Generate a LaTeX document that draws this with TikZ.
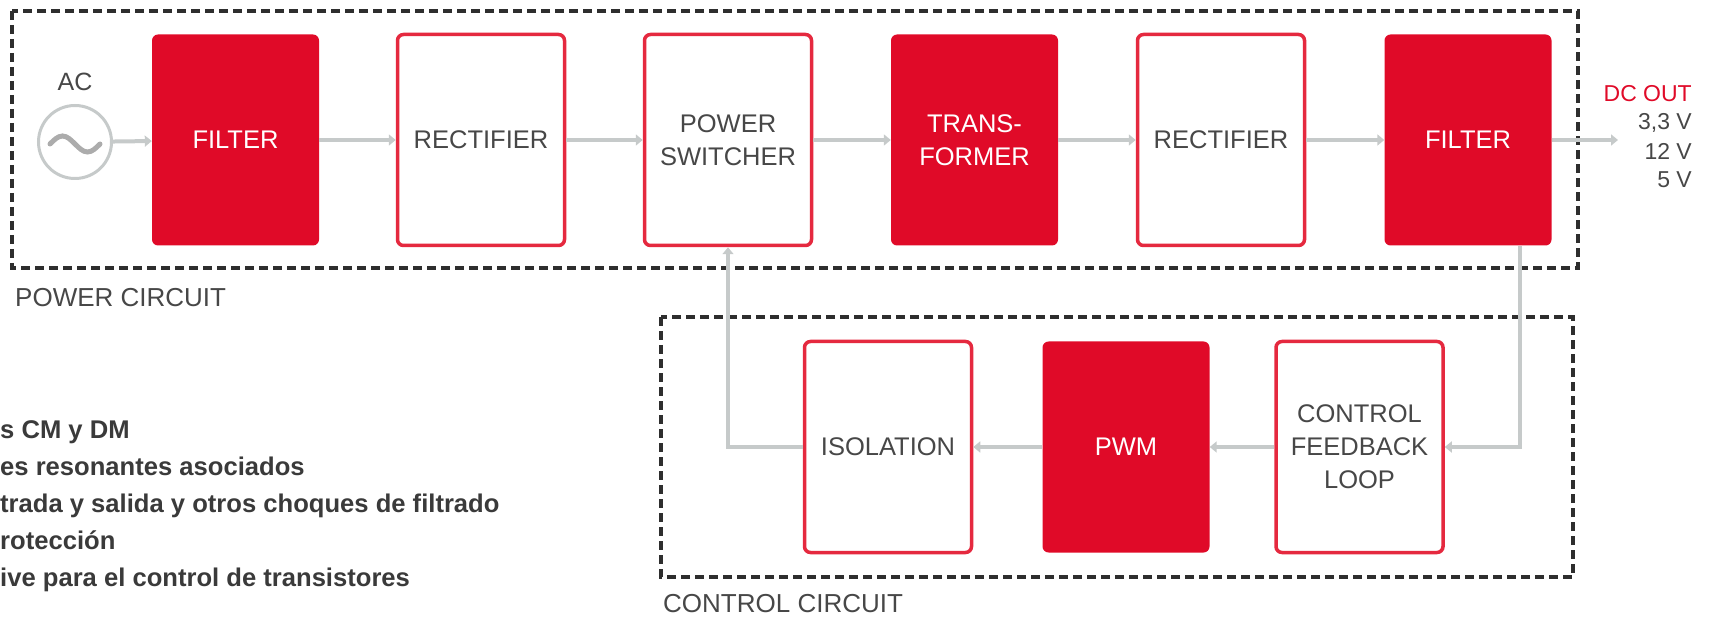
\documentclass[tikz,border=0pt]{standalone}
\usepackage{fontspec}
\setmainfont{Liberation Sans}
\usetikzlibrary{arrows.meta,calc}

\definecolor{psred}{HTML}{E00A28}
\definecolor{edgered}{HTML}{E5293F}
\definecolor{wire}{HTML}{C6CACA}
\definecolor{ink}{HTML}{474747}
\definecolor{frame}{HTML}{2E2E2E}
\definecolor{notes}{HTML}{3A3A3A}

\begin{document}
\begin{tikzpicture}[x=1pt,y=-1pt,
  blk/.style={rounded corners=6pt, minimum width=167pt, minimum height=211pt,
    align=center, inner sep=0pt, font=\fontsize{25.5}{33}\selectfont},
  solidblk/.style={blk, fill=psred, text=white},
  openblk/.style={blk, draw=edgered, line width=3.5pt, fill=white, text=ink},
  region/.style={draw=frame, line width=3.5pt, dash pattern=on 9pt off 5pt},
  flow/.style={draw=wire, line width=4pt, -{Triangle[length=7pt,width=11pt]}},
  caption/.style={anchor=base west, inner sep=0pt, text=ink,
    font=\fontsize{26}{30}\selectfont},
  outlabel/.style={anchor=base east, inner sep=0pt,
    font=\fontsize{23}{28}\selectfont},
  note/.style={anchor=base west, inner sep=0pt, text=notes,
    font=\bfseries\fontsize{25.6}{30}\selectfont}
]
\useasboundingbox (0,0) rectangle (1715,617);

% dashed enclosures
\draw[region] (12,11) rectangle (1578,268);
\draw[region] (661,317) rectangle (1573,577);
\node[caption] (pwrcap) at (15,307) {POWER CIRCUIT};
\node[caption] (ctlcap) at (663,612) {CONTROL CIRCUIT};

% AC source
\node[circle, draw=wire, line width=3pt, minimum size=73pt, inner sep=0pt] (ac) at (75,142) {};
\node[inner sep=0pt, text=ink, font=\fontsize{25}{30}\selectfont] (aclbl) at (75,82) {AC};
\draw[draw=gray!65, line width=5pt, line cap=round]
  ($(ac.center)+(-25,2)$) sin ++(12.5,-8) cos ++(12.5,8) sin ++(12.5,8) cos ++(12.5,-8);

% power stage
\node[solidblk] (flt1) at (235.5,140) {FILTER};
\node[openblk]  (rec1) at (481,140) {RECTIFIER};
\node[openblk]  (psw)  at (728,140) {POWER\\SWITCHER};
\node[solidblk] (trf)  at (974.5,140) {TRANS-\\FORMER};
\node[openblk]  (rec2) at (1221,140) {RECTIFIER};
\node[solidblk] (flt2) at (1468,140) {FILTER};

% control stage
\node[openblk]  (iso) at (888,447) {ISOLATION};
\node[solidblk] (pwm) at (1126,447) {PWM};
\node[openblk]  (cfl) at (1359.5,447) {CONTROL\\FEEDBACK\\LOOP};

% output
\coordinate (dcout) at (1618,140);
\node[outlabel, text=psred] (dclbl) at (1692,102) {DC OUT};
\node[outlabel, text=ink] (v33) at (1692,130) {3,3 V};
\node[outlabel, text=ink] (v12) at (1692,160) {12 V};
\node[outlabel, text=ink] (v5)  at (1692,188) {5 V};

% power path
\draw[flow] (ac) -- (flt1);
\draw[flow] (flt1) -- (rec1);
\draw[flow] (rec1) -- (psw);
\draw[flow] (psw) -- (trf);
\draw[flow] (trf) -- (rec2);
\draw[flow] (rec2) -- (flt2);
\draw[flow] (flt2) -- (dcout);

% feedback path
\coordinate (tap) at ($(flt2.south)+(52,0)$);
\draw[flow, line width=3.5pt] (tap) |- (cfl.east);
\draw[flow] (cfl) -- (pwm);
\draw[flow] (pwm) -- (iso);
\draw[flow, line width=3.5pt] (iso.west) -| (psw.south);

% component notes
\node[note] (n1) at (0,438) {s CM y DM};
\node[note] (n2) at (0,475) {es resonantes asociados};
\node[note] (n3) at (0,512) {trada y salida y otros choques de filtrado};
\node[note] (n4) at (0,549) {rotección};
\node[note] (n5) at (0,586) {ive para el control de transistores};
\end{tikzpicture}
\end{document}
